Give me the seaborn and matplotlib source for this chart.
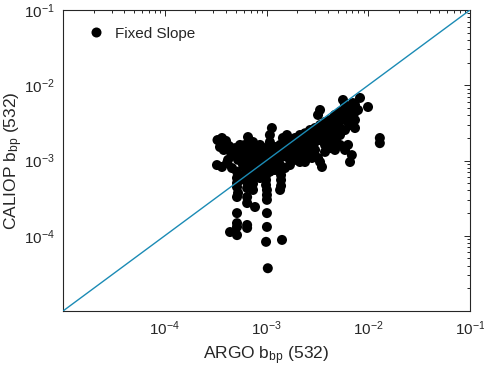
import numpy as np
import pandas as pd
import matplotlib
matplotlib.use("Agg")
import matplotlib.pyplot as plt
import matplotlib.ticker as mticker
import seaborn as sns

# ---- data ----
argo_bbp = [
    3.3e-4, 3.65e-4, 4.0e-4, 4.28e-4, 3.49e-4, 3.8e-4, 3.26e-4, 3.65e-4, 4.19e-4, 4.69e-4,
    4.9e-4, 5.49e-4, 5.88e-4, 5.25e-4, 4.58e-4, 5.13e-4, 5.88e-4, 6.29e-4, 5.49e-4, 6.58e-4,
    7.37e-4, 8.25e-4, 9.0e-4,
    5.13e-4, 5.13e-4, 5.13e-4, 5.25e-4, 5.13e-4, 5.13e-4, 5.13e-4, 5.13e-4, 4.38e-4, 5.13e-4,
    6.45e-4, 6.45e-4, 6.45e-4, 6.45e-4, 6.45e-4, 7.71e-4, 6.45e-4, 6.45e-4,
    7.2e-4, 7.37e-4, 7.37e-4,
    9.9e-4, 9.9e-4, 9.9e-4, 1.01e-3, 1.01e-3, 1.01e-3, 1.01e-3, 1.01e-3, 9.9e-4, 1.03e-3, 1.42e-3,
    1.36e-3, 1.39e-3, 1.39e-3, 1.39e-3, 1.39e-3, 1.36e-3,
    6.15e-4, 6.15e-4, 6.15e-4, 6.15e-4,
    6.89e-4, 6.89e-4, 6.89e-4, 6.89e-4,
    7.71e-4, 7.71e-4, 7.71e-4, 7.71e-4,
    8.63e-4, 8.63e-4, 8.63e-4, 8.63e-4, 8.63e-4,
    9.67e-4, 9.67e-4, 9.67e-4, 9.67e-4,
    1.08e-3, 1.08e-3, 1.08e-3, 1.08e-3,
    1.21e-3, 1.21e-3, 1.21e-3, 1.21e-3,
    1.36e-3, 1.36e-3, 1.36e-3,
    1.52e-3, 1.52e-3, 1.52e-3,
    1.70e-3, 1.70e-3, 1.70e-3, 1.70e-3,
    1.91e-3, 1.91e-3, 1.91e-3,
    2.13e-3, 2.13e-3, 2.13e-3, 2.13e-3,
    2.39e-3, 2.39e-3, 2.39e-3, 2.39e-3,
    2.68e-3, 2.68e-3, 2.68e-3, 2.68e-3,
    3.0e-3, 3.0e-3, 3.0e-3, 3.0e-3,
    3.36e-3, 3.36e-3, 3.36e-3,
    3.76e-3, 3.76e-3, 3.76e-3, 3.76e-3,
    4.21e-3, 4.21e-3, 4.21e-3,
    4.71e-3, 4.71e-3, 4.71e-3, 4.71e-3,
    5.28e-3, 5.28e-3, 5.28e-3, 5.28e-3,
    5.91e-3, 5.91e-3, 5.91e-3, 5.91e-3,
    6.62e-3, 6.62e-3, 6.62e-3,
    7.41e-3, 7.41e-3, 7.41e-3, 7.41e-3,
    1.13e-3, 1.08e-3, 1.59e-3, 1.45e-3, 3.36e-3, 3.21e-3, 5.65e-3, 8.3e-3, 9.95e-3, 7.09e-3,
    7.93e-3, 1.30e-2, 1.30e-2, 6.62e-3, 6.9e-3, 5.91e-3, 6.33e-3, 3.51e-3, 3.36e-3, 3.21e-3,
    3.76e-3, 4.21e-3, 5.28e-3, 4.71e-3, 2.8e-3, 2.39e-3, 2.13e-3, 1.91e-3, 1.70e-3, 1.52e-3,
    1.21e-3, 1.08e-3, 8.63e-4, 8.25e-4, 5.88e-4, 6.89e-4,
    4.5e-4, 4.1e-4, 5.6e-4, 7.0e-4, 8.0e-4, 9.2e-4, 1.15e-3, 1.28e-3, 1.45e-3, 1.62e-3,
    1.8e-3, 2.0e-3, 2.25e-3, 2.5e-3, 2.85e-3, 3.1e-3, 3.55e-3, 3.95e-3, 4.4e-3, 4.95e-3,
    5.5e-3, 6.1e-3, 6.9e-3, 2.6e-3, 2.95e-3, 4.3e-3,
]
caliop_bbp = [
    1.87e-3, 1.99e-3, 1.82e-3, 1.56e-3, 1.51e-3, 1.38e-3, 8.7e-4, 8.2e-4, 1.02e-3, 1.18e-3,
    1.46e-3, 1.61e-3, 1.38e-3, 1.02e-3, 7.94e-4, 7.1e-4, 8.7e-4, 1.08e-3, 5.5e-4, 2.05e-3,
    1.76e-3, 1.56e-3, 1.38e-3,
    5.85e-4, 5.0e-4, 4.44e-4, 3.7e-4, 3.27e-4, 2.0e-4, 1.47e-4, 1.31e-4, 1.12e-4, 1.02e-4,
    6.4e-4, 5.2e-4, 4.3e-4, 3.27e-4, 2.72e-4, 2.41e-4, 1.39e-4, 1.27e-4,
    5.85e-4, 4.9e-4, 4.06e-4,
    6.4e-4, 5.5e-4, 4.72e-4, 4.06e-4, 3.48e-4, 3.0e-4, 2.0e-4, 1.31e-4, 8.3e-5, 3.7e-5, 8.8e-5,
    8.7e-4, 7.5e-4, 6.4e-4, 5.5e-4, 4.6e-4, 4.06e-4,
    1.61e-3, 1.30e-3, 1.02e-3, 8.2e-4,
    1.46e-3, 1.18e-3, 9.55e-4, 7.94e-4,
    1.38e-3, 1.11e-3, 9.3e-4, 7.48e-4,
    1.61e-3, 1.30e-3, 1.08e-3, 8.7e-4, 7.1e-4,
    1.46e-3, 1.18e-3, 9.55e-4, 7.94e-4,
    1.76e-3, 1.38e-3, 1.11e-3, 9.0e-4,
    1.51e-3, 1.25e-3, 1.02e-3, 8.2e-4,
    1.61e-3, 1.30e-3, 1.08e-3,
    1.71e-3, 1.38e-3, 1.14e-3,
    1.87e-3, 1.51e-3, 1.22e-3, 1.02e-3,
    1.99e-3, 1.61e-3, 1.30e-3,
    2.18e-3, 1.76e-3, 1.38e-3, 1.11e-3,
    2.3e-3, 1.87e-3, 1.51e-3, 1.18e-3,
    2.54e-3, 2.05e-3, 1.61e-3, 1.30e-3,
    2.7e-3, 2.18e-3, 1.76e-3, 1.38e-3,
    2.96e-3, 2.39e-3, 1.87e-3,
    3.25e-3, 2.54e-3, 2.05e-3, 1.61e-3,
    3.45e-3, 2.8e-3, 2.18e-3,
    4.03e-3, 3.25e-3, 2.54e-3, 1.87e-3,
    4.41e-3, 3.45e-3, 2.7e-3, 2.18e-3,
    5.47e-3, 4.41e-3, 3.45e-3, 2.54e-3,
    5.0e-3, 4.03e-3, 2.96e-3,
    5.47e-3, 4.41e-3, 3.45e-3, 2.7e-3,
    2.7e-3, 2.18e-3, 2.18e-3, 1.99e-3, 4.69e-3, 4.03e-3, 6.37e-3, 6.78e-3, 5.14e-3, 5.8e-3,
    4.69e-3, 1.99e-3, 1.70e-3, 9.55e-4, 1.18e-3, 1.38e-3, 1.61e-3, 8.2e-4, 9.55e-4, 1.08e-3,
    1.30e-3, 1.46e-3, 1.61e-3, 1.38e-3, 1.08e-3, 9.55e-4, 9.55e-4, 1.02e-3, 8.7e-4, 7.94e-4,
    7.48e-4, 7.1e-4, 5.85e-4, 6.82e-4, 6.4e-4, 6.4e-4,
    1.25e-3, 9.3e-4, 1.25e-3, 1.05e-3, 1.25e-3, 1.22e-3, 1.33e-3, 1.15e-3, 1.28e-3, 1.2e-3,
    1.35e-3, 1.45e-3, 1.6e-3, 1.85e-3, 2.0e-3, 2.3e-3, 2.3e-3, 2.8e-3, 3.0e-3, 3.0e-3,
    3.9e-3, 3.9e-3, 3.8e-3, 1.15e-3, 1.2e-3, 1.75e-3,
]
one_to_one = [1e-5, 1e-1]
axis_limits = [1e-5, 1e-1]
major_ticks = [1e-4, 1e-3, 1e-2, 1e-1]
series_label = "Fixed Slope"

df = pd.DataFrame({"argo": argo_bbp, "caliop": caliop_bbp, "series": series_label})
line_df = pd.DataFrame({"x": one_to_one, "y": one_to_one})

# ---- style ----
sns.set_theme(style="white")
plt.rcParams["font.family"] = ["Liberation Sans", "DejaVu Sans"]
plt.rcParams["mathtext.fontset"] = "custom"
plt.rcParams["mathtext.rm"] = "Liberation Sans"
plt.rcParams["mathtext.it"] = "Liberation Sans:italic"
plt.rcParams["mathtext.bf"] = "Liberation Sans:bold"
text_color = "#262626"

fig = plt.figure(figsize=(4.84, 3.72), dpi=100)
ax = fig.add_axes([63 / 484, 1 - 311 / 372, (470 - 63) / 484, (311 - 10) / 372])

sns.scatterplot(data=df, x="argo", y="caliop", hue="series", palette=["black"],
                s=52, linewidth=0, edgecolor="none", ax=ax, zorder=2)
sns.lineplot(data=line_df, x="x", y="y", color="#1b8bb5", linewidth=1.0,
             ax=ax, zorder=3, legend=False)

ax.set_xscale("log")
ax.set_yscale("log")
ax.set_xlim(axis_limits)
ax.set_ylim(axis_limits)

for axis in (ax.xaxis, ax.yaxis):
    axis.set_major_locator(mticker.FixedLocator(major_ticks))
    axis.set_major_formatter(mticker.LogFormatterMathtext())
    axis.set_minor_locator(mticker.LogLocator(base=10, subs=np.arange(2, 10), numticks=20))
    axis.set_minor_formatter(mticker.NullFormatter())

ax.tick_params(which="both", direction="in", top=True, right=True, colors=text_color,
               labelsize=11, width=0.7)
ax.tick_params(which="major", length=4.5, pad=6)
ax.tick_params(which="minor", length=2.5)
for sp in ax.spines.values():
    sp.set_color(text_color)
    sp.set_linewidth(0.8)
    sp.set_visible(True)

ax.set_xlabel(r"ARGO b$_{\mathregular{bp}}$ (532)", fontsize=12.5, color=text_color)
ax.set_ylabel(r"CALIOP b$_{\mathregular{bp}}$ (532)", fontsize=12.5, color=text_color)
ax.xaxis.set_label_coords(0.5, -0.11)
ax.yaxis.set_label_coords(-0.094, 0.5)

handles, labels = ax.get_legend_handles_labels()
leg = ax.legend(handles=handles[:1], labels=[series_label], loc="upper left",
                frameon=False, fontsize=11, handletextpad=0.5, borderaxespad=0.0,
                bbox_to_anchor=(0.035, 0.965), handlelength=1.6, markerscale=1.0)
for t in leg.get_texts():
    t.set_color(text_color)

fig.savefig("out.png", dpi=100)
